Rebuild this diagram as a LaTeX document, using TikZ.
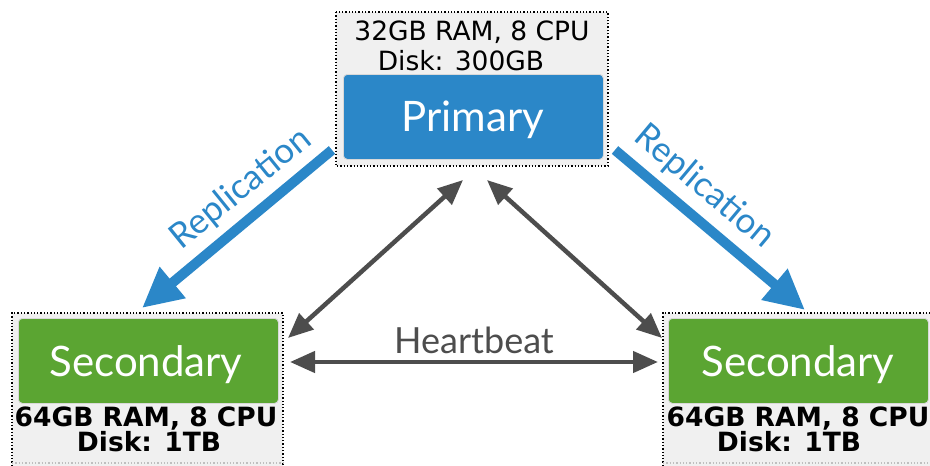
\documentclass[tikz,border=0pt]{standalone}
\usepackage{fontspec}
\setmainfont{DejaVu Sans}
\newfontfamily\gill{Lato}
\usetikzlibrary{arrows.meta}
\definecolor{pblue}{HTML}{2B87C8}
\definecolor{sgreen}{HTML}{5BA532}
\definecolor{boxgrey}{HTML}{F0F0F0}
\definecolor{hgrey}{HTML}{4D4D4D}
\tikzset{
  infobox/.style={fill=boxgrey, draw=black, dotted, line width=1.3pt},
  dotline/.style={draw=black, dotted, line width=1.3pt},
  rolebox/.style={rounded corners=4pt, draw=black!15, line width=0.8pt},
  roletext/.style={font=\gill\fontsize{42}{42}\selectfont, text=white, inner sep=0pt, anchor=base},
  spec/.style={font=\fontsize{26.5}{26.5}\selectfont, inner sep=0pt, anchor=base},
  specb/.style={font=\bfseries\fontsize{26.5}{26.5}\selectfont, inner sep=0pt, anchor=base},
  repl/.style={draw=pblue, line width=10pt, -{Triangle[length=40pt,width=38pt]}},
  repltext/.style={font=\gill\fontsize{35}{35}\selectfont, text=pblue, inner sep=0pt},
  hb/.style={draw=hgrey, line width=4.5pt, {Triangle[length=25pt,width=21pt]}-{Triangle[length=25pt,width=21pt]}},
}
\begin{document}
\begin{tikzpicture}[x=1pt, y=-1pt]
\useasboundingbox (0,0) rectangle (930,466);
% info boxes
\path[infobox] (336,12) rectangle (608,166);
\fill[boxgrey] (12,313) rectangle (283,466);
\path[dotline] (12,466) -- (12,313) -- (283,313) -- (283,466);
\fill[boxgrey] (663,313) rectangle (930,466);
\path[dotline] (663,466) -- (663,313) -- (930,313);
\draw[black!25, dotted, line width=1.3pt] (12,463) -- (283,463) (663,463) -- (930,463);
% role boxes
\node[rolebox, fill=pblue, minimum width=260pt, minimum height=85pt, anchor=north west] (prim) at (343,74) {};
\node[rolebox, fill=sgreen, minimum width=260pt, minimum height=85pt, anchor=north west] (secl) at (18,318) {};
\node[rolebox, fill=sgreen, minimum width=260pt, minimum height=85pt, anchor=north west] (secr) at (668,318) {};
\node[roletext] (primt) at (473,131) {Primary};
\node[roletext] (seclt) at (146,376) {Secondary};
\node[roletext] (secrt) at (798,376) {Secondary};
% specs
\node[spec] (s1) at (472,40) {32GB RAM, 8 CPU};
\node[spec] (s2) at (461,70) {Disk: 300GB};
\node[specb] (s3) at (146,426) {64GB RAM, 8 CPU};
\node[specb] (s4) at (149,451) {Disk: 1TB};
\node[specb] (s5) at (798,426) {64GB RAM, 8 CPU};
\node[specb] (s6) at (789,451) {Disk: 1TB};
% replication arrows
\coordinate (rla) at (332,150);
\coordinate (rlb) at (142,308);
\coordinate (rra) at (615,150);
\coordinate (rrb) at (805,310);
\draw[repl] (rla) -- (rlb);
\draw[repl] (rra) -- (rrb);
\node[repltext, rotate=39] (rlt) at (241,189) {Replication};
\node[repltext, rotate=-40] (rrt) at (704,187) {Replication};
% heartbeat
\coordinate (h1) at (463,180);
\coordinate (h2) at (288,338);
\coordinate (h3) at (487,180);
\coordinate (h4) at (662,338);
\coordinate (h5) at (290,362);
\coordinate (h6) at (658,362);
\draw[hb] (h1) -- (h2);
\draw[hb] (h3) -- (h4);
\draw[hb] (h5) -- (h6);
\node[font=\gill\fontsize{36}{36}\selectfont, text=hgrey, inner sep=0pt, anchor=base] (hbt) at (474,353) {Heartbeat};
\end{tikzpicture}
\end{document}
